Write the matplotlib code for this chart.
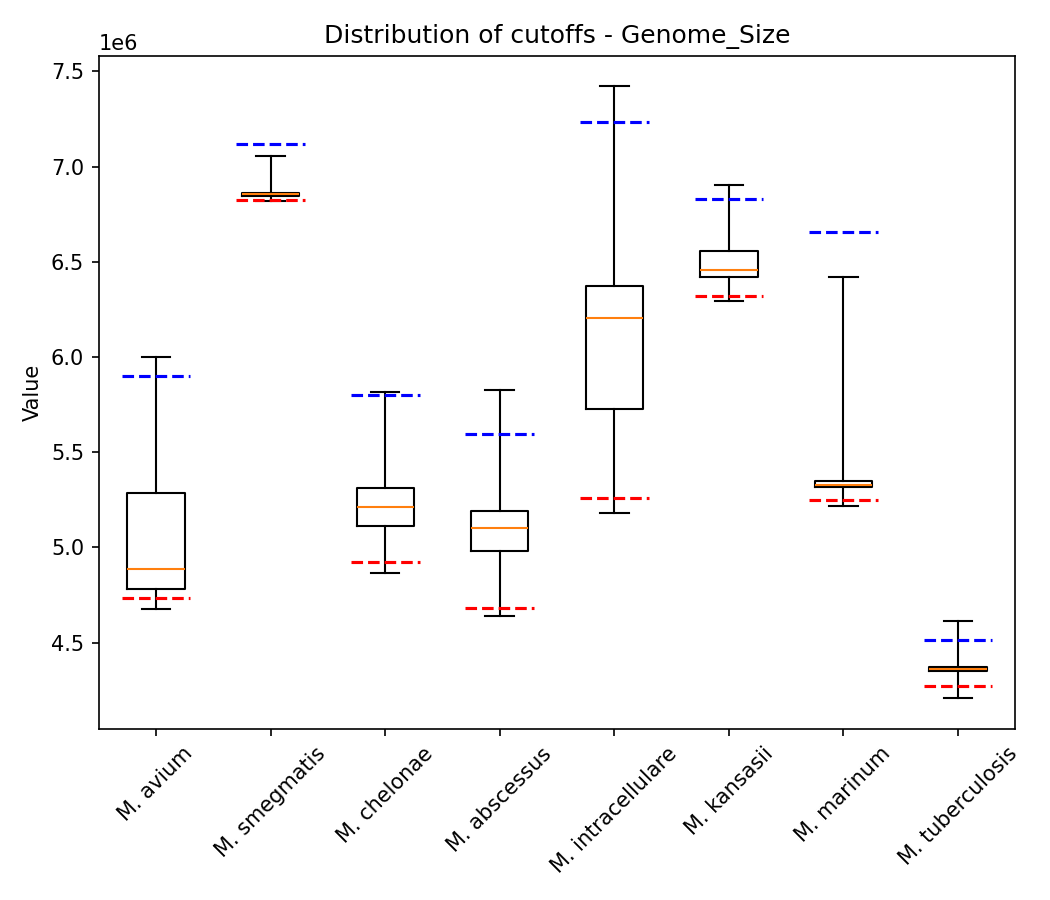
import matplotlib
matplotlib.use("Agg")
import matplotlib.pyplot as plt

species = ["M. avium", "M. smegmatis", "M. chelonae", "M. abscessus",
           "M. intracellulare", "M. kansasii", "M. marinum", "M. tuberculosis"]
whislo = [4.679e6, 6.817e6, 4.863e6, 4.642e6, 5.179e6, 6.296e6, 5.217e6, 4.207e6]
q1     = [4.784e6, 6.847e6, 5.111e6, 4.979e6, 5.726e6, 6.419e6, 5.316e6, 4.349e6]
med    = [4.884e6, 6.855e6, 5.211e6, 5.100e6, 6.205e6, 6.456e6, 5.328e6, 4.363e6]
q3     = [5.284e6, 6.863e6, 5.311e6, 5.189e6, 6.374e6, 6.556e6, 5.347e6, 4.374e6]
whishi = [6.000e6, 7.053e6, 5.816e6, 5.826e6, 7.421e6, 6.902e6, 6.421e6, 4.616e6]
upper_cut = [5.900e6, 7.121e6, 5.800e6, 5.595e6, 7.232e6, 6.830e6, 6.658e6, 4.514e6]
lower_cut = [4.732e6, 6.825e6, 4.921e6, 4.684e6, 5.258e6, 6.319e6, 5.251e6, 4.272e6]

stats = []
for i, name in enumerate(species):
    stats.append(dict(label=name, whislo=whislo[i], q1=q1[i], med=med[i],
                      q3=q3[i], whishi=whishi[i], fliers=[]))

fig = plt.figure(figsize=(7, 6), dpi=150)
ax = fig.add_axes([0.094, 0.19, 0.873, 0.748])
ax.bxp(stats, showfliers=False)
for i in range(len(species)):
    x = i + 1
    ax.hlines(upper_cut[i], x - 0.3, x + 0.3, colors="blue", linestyles="--", lw=1.5)
    ax.hlines(lower_cut[i], x - 0.3, x + 0.3, colors="red", linestyles="--", lw=1.5)

ax.set_title("Distribution of cutoffs - Genome_Size")
ax.set_ylabel("Value")
plt.setp(ax.get_xticklabels(), rotation=45)
fig.savefig("out.png", dpi=150)
